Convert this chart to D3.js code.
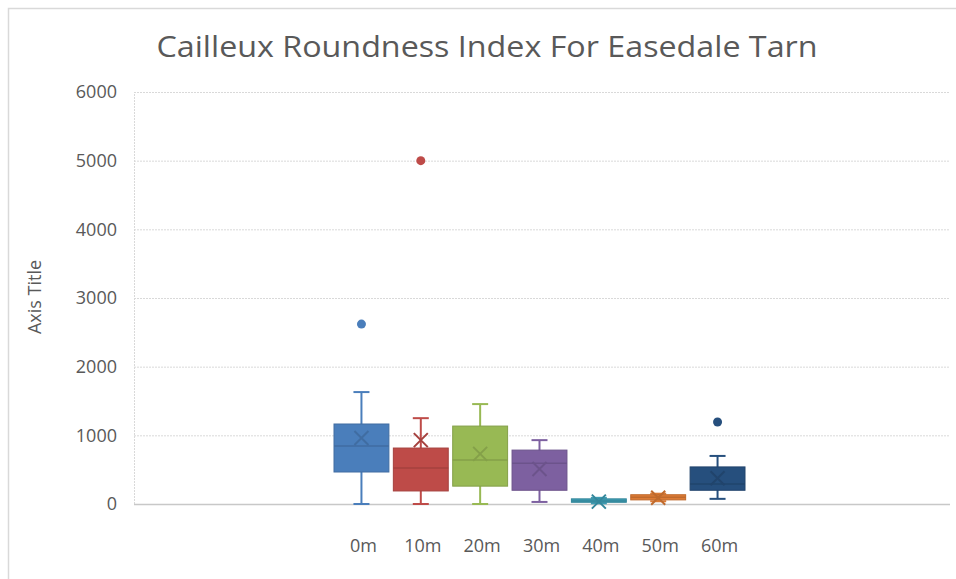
<!DOCTYPE html>
<html>
<head>
<meta charset="utf-8">
<script src="https://cdn.jsdelivr.net/npm/d3@7"></script>
<style>
  body { margin: 0; background: #fff; }
  svg { display: block; font-family: 'Open Sans', sans-serif; }
</style>
</head>
<body>
<div class="content"></div>
<script>
// one series per sample distance, Excel box-and-whisker style
var categories = ['0m', '10m', '20m', '30m', '40m', '50m', '60m'];
var colors = ['#4a7ebb', '#be4b48', '#98b954', '#7d60a0', '#3c9cb3', '#dc7a34', '#264f7d'];
var lowWhisker = [0, 0, 0, 30, 10, 40, 75];
var q1 = [466, 190, 260, 200, 25, 60, 200];
var median = [845, 525, 640, 595, 45, 100, 290];
var q3 = [1165, 815, 1135, 785, 75, 135, 540];
var highWhisker = [1630, 1250, 1455, 930, 90, 150, 700];
var means = [960, 930, 730, 510, 35, 90, 375];
var outliers = [[2620], [5000], [], [], [], [], [1195]];
var yTicks = [0, 1000, 2000, 3000, 4000, 5000, 6000];

var chart = {
    width: 956,
    height: 579,
    left: 134,
    right: 950,
    top: 92,
    bottom: 504
};

var svg = d3.select('.content').append('svg')
    .attr('width', chart.width)
    .attr('height', chart.height);

// chart frame (only top/left show in the picture)
svg.append('rect')
    .attr('x', 8.5).attr('y', 8.5)
    .attr('width', 960).attr('height', 600)
    .style('fill', 'none')
    .style('stroke', '#d9d9d9')
    .style('stroke-width', '1.5px');

svg.append('text')
    .attr('x', 487).attr('y', 57)
    .attr('text-anchor', 'middle')
    .attr('textLength', 661)
    .attr('lengthAdjust', 'spacingAndGlyphs')
    .style('font-size', '29px')
    .style('fill', '#595959')
    .text('Cailleux Roundness Index For Easedale Tarn');

var y = d3.scaleLinear().domain([0, 6000]).range([chart.bottom, chart.top]);
var x = d3.scaleBand().domain(categories).range([334, 745]).paddingInner(0.075);

// gridlines
var yAxis = d3.axisLeft(y).tickValues(yTicks).tickFormat(d3.format('d'))
    .tickSize(chart.left - chart.right).tickPadding(17);
var gy = svg.append('g')
    .attr('transform', 'translate(' + chart.left + ',0)')
    .call(yAxis);
gy.select('.domain')
    .style('stroke', '#d9d9d9')
    .style('stroke-dasharray', '2,1');
gy.selectAll('.tick line')
    .style('stroke', function(d) { return d === 0 ? '#c8c8c8' : '#d9d9d9'; })
    .style('stroke-dasharray', function(d) { return d === 0 ? null : '2,1'; })
    .style('stroke-width', function(d) { return d === 0 ? '1.5px' : '1px'; });
gy.selectAll('.tick text')
    .style('font-size', '18px')
    .style('fill', '#595959')
    .style('font-family', "'Open Sans', sans-serif");

svg.append('text')
    .attr('transform', 'translate(41,297) rotate(-90)')
    .attr('text-anchor', 'middle')
    .style('font-size', '18px')
    .style('fill', '#595959')
    .text('Axis Title');

// category labels
svg.append('g').selectAll('text')
    .data(categories)
    .enter().append('text')
    .attr('x', function(d) { return x(d) + x.bandwidth() / 2 + 2; })
    .attr('y', 552)
    .attr('text-anchor', 'middle')
    .style('font-size', '18px')
    .style('fill', '#595959')
    .text(function(d) { return d; });

var boxes = svg.append('g').selectAll('g')
    .data(categories)
    .enter().append('g');

boxes.each(function(c, i) {
    var g = d3.select(this);
    var col = colors[i];
    var dark = d3.color(col).darker(0.4);
    var cx = x(c) + x.bandwidth() / 2;
    var cap = 8;

    // whiskers
    g.append('line')
        .attr('x1', cx).attr('x2', cx)
        .attr('y1', y(lowWhisker[i])).attr('y2', y(highWhisker[i]))
        .style('stroke', col).style('stroke-width', '2px');
    [lowWhisker[i], highWhisker[i]].forEach(function(v) {
        g.append('line')
            .attr('x1', cx - cap).attr('x2', cx + cap)
            .attr('y1', y(v)).attr('y2', y(v))
            .style('stroke', col).style('stroke-width', '2px');
    });

    g.append('rect')
        .attr('x', x(c))
        .attr('y', y(q3[i]))
        .attr('width', x.bandwidth())
        .attr('height', Math.max(y(q1[i]) - y(q3[i]), 1))
        .style('fill', col)
        .style('stroke', dark)
        .style('stroke-width', '1px');

    g.append('line')
        .attr('x1', x(c)).attr('x2', x(c) + x.bandwidth())
        .attr('y1', y(median[i])).attr('y2', y(median[i]))
        .style('stroke', dark).style('stroke-width', '1.5px');

    // mean marker
    var m = 7;
    g.append('path')
        .attr('d', 'M' + (cx - m) + ',' + (y(means[i]) - m) + 'L' + (cx + m) + ',' + (y(means[i]) + m) +
            'M' + (cx + m) + ',' + (y(means[i]) - m) + 'L' + (cx - m) + ',' + (y(means[i]) + m))
        .style('stroke', dark)
        .style('stroke-width', '2px')
        .style('fill', 'none');

    g.selectAll('circle')
        .data(outliers[i])
        .enter().append('circle')
        .attr('cx', cx)
        .attr('cy', function(d) { return y(d); })
        .attr('r', 4.5)
        .style('fill', col);
});
</script>
</body>
</html>
